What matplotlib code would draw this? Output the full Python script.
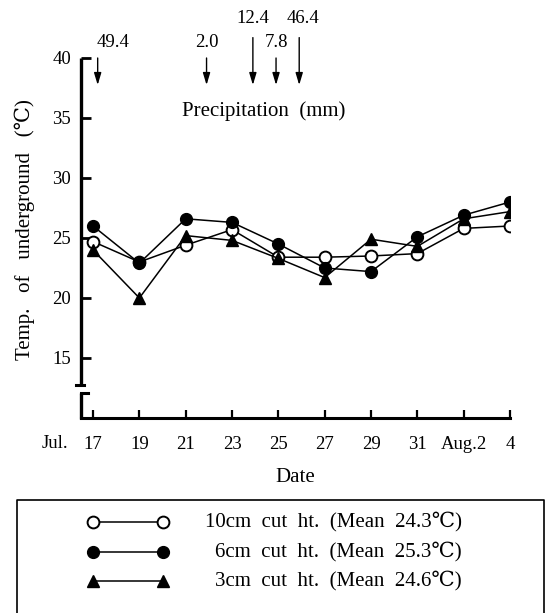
import matplotlib
matplotlib.use("Agg")
import matplotlib.pyplot as plt

plt.rcParams['font.family'] = ['Liberation Serif', 'DejaVu Serif']
FONT_SIZE = 13.5
LABEL_SIZE = 15

# --- Underground temperature by cutting height ---
days = [17, 19, 21, 23, 25, 27, 29, 31, 33, 35]
day_labels = ['17', '19', '21', '23', '25', '27', '29', '31', 'Aug.2', '4']
temp_10cm = [24.7, 23.0, 24.4, 25.7, 23.4, 23.4, 23.5, 23.7, 25.8, 26.0]
temp_6cm = [26.0, 22.9, 26.6, 26.3, 24.5, 22.5, 22.2, 25.1, 26.9, 28.0]
temp_3cm = [24.0, 20.0, 25.2, 24.8, 23.3, 21.7, 24.9, 24.3, 26.6, 27.2]
series_labels = ['10cm  cut  ht.  (Mean  24.3\u2103)',
                 '6cm  cut  ht.  (Mean  25.3\u2103)',
                 '3cm  cut  ht.  (Mean  24.6\u2103)']

# --- Precipitation events ---
rain_days = [17.2, 21.9, 23.9, 24.9, 25.9]
rain_mm = ['49.4', '2.0', '12.4', '7.8', '46.4']
yticks = [15, 20, 25, 30, 35, 40]

W, H = 550, 613
fig = plt.figure(figsize=(W / 100, H / 100), dpi=100)
ax = fig.add_axes([81 / W, 1 - 418 / H, 429 / W, 360 / H])
ax.set_xlim(16.48, 35.0)
ax.set_ylim(10, 40)

# series (open circles under the others)
ax.plot(days, temp_10cm, color='k', lw=1.1, marker='o', ms=8.5,
        mfc='white', mec='k', mew=1.4, zorder=3)
ax.plot(days, temp_3cm, color='k', lw=1.1, marker='^', ms=9,
        mfc='k', mec='k', zorder=4)
ax.plot(days, temp_6cm, color='k', lw=1.1, marker='o', ms=8.5,
        mfc='k', mec='k', zorder=5)

# axes frame: broken left axis, thick bottom axis
for s in ['top', 'right', 'left']:
    ax.spines[s].set_visible(False)
ax.spines['bottom'].set_linewidth(2.2)
ytr = ax.get_yaxis_transform()
ax.plot([0, 0], [40, 12.75], color='k', lw=2.4, transform=ytr,
        clip_on=False, solid_capstyle='butt')
ax.plot([0, 0], [12.1, 9.95], color='k', lw=2.4, transform=ytr,
        clip_on=False, solid_capstyle='butt')
ax.plot([-0.012, 0.006], [12.75, 12.75], color='k', lw=2.2,
        transform=ytr, clip_on=False)
ax.plot([0, 0.016], [12.1, 12.1], color='k', lw=2.2,
        transform=ytr, clip_on=False)

ax.set_yticks(yticks)
ax.set_yticklabels([str(v) for v in yticks])
ax.tick_params(axis='y', direction='in', length=7, width=2.0, pad=7,
               labelsize=FONT_SIZE)
ax.set_xticks(days)
ax.set_xticklabels(day_labels)
ax.tick_params(axis='x', direction='in', length=6, width=1.6, pad=13,
               labelsize=FONT_SIZE)

fig.text(55 / W, 1 - 444 / H, 'Jul.', ha='center', va='center',
         fontsize=FONT_SIZE)
fig.text(295 / W, 1 - 478 / H, 'Date', ha='center', va='center',
         fontsize=LABEL_SIZE)
fig.text(25 / W, 1 - 230 / H, 'Temp.   of   underground   (\u2103)',
         ha='center', va='center', rotation=90, fontsize=LABEL_SIZE)

# precipitation arrows; 12.4 and 46.4 sit one row higher
tier = [0, 0, 1, 0, 1]
label_dx = [0.65, 0, 0, 0, 0.15]
for d, mm, t, dx in zip(rain_days, rain_mm, tier, label_dx):
    top = 41.7 if t else 40.0
    ax.annotate('', xy=(d, 37.75), xytext=(d, top),
                arrowprops=dict(arrowstyle='-|>,head_length=0.6,head_width=0.18',
                                color='k', lw=1.0, shrinkA=0, shrinkB=0,
                                mutation_scale=12),
                annotation_clip=False)
    ax.text(d + dx, 43.3 if t else 41.3, mm, ha='center', va='center',
            fontsize=FONT_SIZE, clip_on=False)
fig.text(264 / W, 1 - 111 / H, 'Precipitation  (mm)', ha='center',
         va='center', fontsize=LABEL_SIZE)

# legend box drawn in pixel units below the plot
leg = fig.add_axes([0, 0, 1, 120 / H])
leg.set_xlim(0, W)
leg.set_ylim(H, H - 120)
leg.axis('off')
leg.plot([17, 17, 544, 544], [H + 5, 500, 500, H + 5], color='k', lw=1.2,
         clip_on=False)
row_y = [522, 552, 581]
styles = [dict(marker='o', mfc='white', ms=8.5, mew=1.4),
          dict(marker='o', mfc='k', ms=8.5),
          dict(marker='^', mfc='k', ms=9)]
for y, lab, st in zip(row_y, series_labels, styles):
    leg.plot([93, 163], [y, y], color='k', lw=1.1, mec='k', **st)
    leg.text(462, y, lab, ha='right', va='center', fontsize=LABEL_SIZE)

fig.savefig('out.png', dpi=100)
